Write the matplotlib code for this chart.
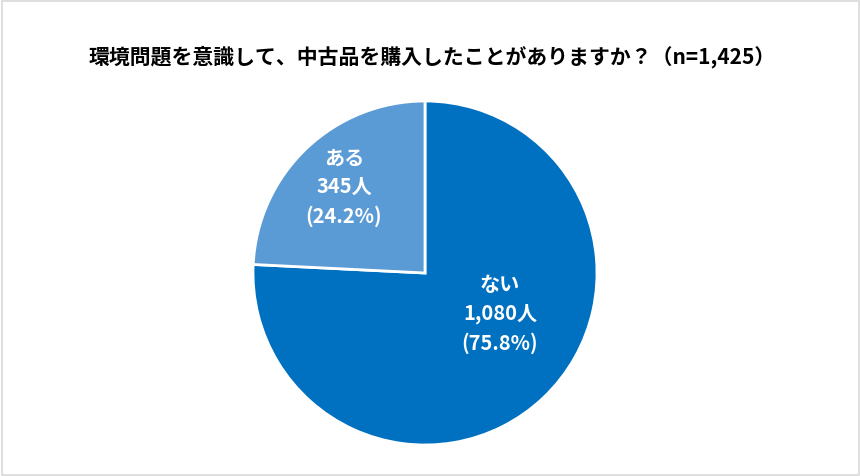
import matplotlib
matplotlib.use("Agg")
import matplotlib.pyplot as plt
from matplotlib.patches import Rectangle

plt.rcParams['font.family'] = ['Noto Sans CJK JP', 'DejaVu Sans']

title = "環境問題を意識して、中古品を購入したことがありますか？（n=1,425）"
categories = ["ない", "ある"]
counts = [1080, 345]
percents = [75.8, 24.2]
colors = ["#0070C0", "#5B9BD5"]

W, H = 860, 477
fig = plt.figure(figsize=(W / 100, H / 100), dpi=100)
fig.patch.set_facecolor("white")
fig.patches.append(Rectangle((1.5 / W, 1.5 / H), 1 - 3 / W, 1 - 3 / H, transform=fig.transFigure,
                             fill=False, edgecolor="#D9D9D9", linewidth=1.2))

cx, cy, r = 425, 274, 172
ax = fig.add_axes([(cx - r) / W, (H - cy - r) / H, 2 * r / W, 2 * r / H])
ax.pie(counts, colors=colors, startangle=90, counterclock=False, radius=1,
       wedgeprops=dict(edgecolor="white", linewidth=2))
ax.set_xlim(-1, 1)
ax.set_ylim(-1, 1)
ax.axis("off")

label_pos = [((500 - cx) / r, (cy - 314) / r), ((344 - cx) / r, (cy - 187) / r)]
for cat, n, p, (lx, ly) in zip(categories, counts, percents, label_pos):
    ax.text(lx, ly, f"{cat}\n{n:,}人\n({p}%)", ha="center", va="center", color="white",
            fontsize=14.5, fontweight="bold", linespacing=1.45)

fig.text(432 / W, 1 - 57 / H, title, ha="center", va="center", fontsize=15,
         fontweight="bold", color="black")

fig.savefig("out.png", dpi=100, facecolor="white")
